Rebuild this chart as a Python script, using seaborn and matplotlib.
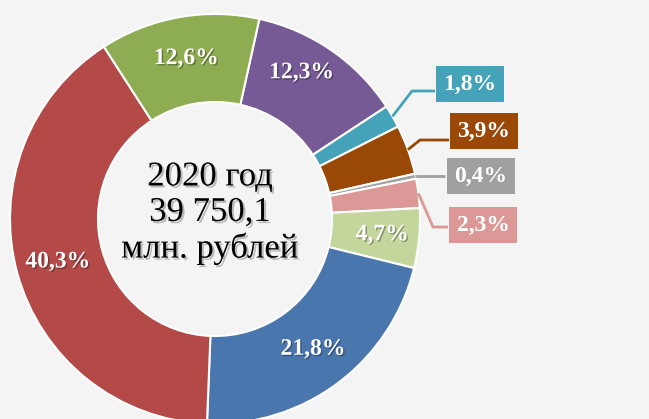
import matplotlib
matplotlib.use('Agg')
import numpy as np
import matplotlib.pyplot as plt
import matplotlib.patheffects as pe
import seaborn as sns

# shares of the 2020 total, clockwise from the top
shares = [12.3, 1.8, 3.9, 0.4, 2.3, 4.7, 21.8, 40.3, 12.6]
share_labels = ['12,3%', '1,8%', '3,9%', '0,4%', '2,3%', '4,7%', '21,8%', '40,3%', '12,6%']
slice_colors = ['#765A96', '#45A3B9', '#9A4806', '#A0A0A0', '#DC9896',
                '#C3D69B', '#4A76AE', '#B34A47', '#8EAC51']
outside = [False, True, True, True, True, False, False, False, False]
center_text = '2020 год\n39 750,1\nмлн. рублей'

sns.set_style('white')
plt.rcParams['font.family'] = ['Liberation Serif', 'DejaVu Serif']

W, H = 649, 419
CX, CY = 215, 219          # donut centre in pixels (from top-left)
R_OUT, R_IN = 205, 117

fig = plt.figure(figsize=(W / 100, H / 100), dpi=100)
fig.patch.set_facecolor('#F4F4F4')
ax = fig.add_axes([0, 0, 1, 1])
ax.set_facecolor('#F4F4F4')

wedges, _ = ax.pie(shares, colors=slice_colors, startangle=77.5, counterclock=False,
                   radius=R_OUT,
                   wedgeprops=dict(width=R_OUT - R_IN, edgecolor='white', linewidth=1.5))

ax.set_xlim(-CX, W - CX)
ax.set_ylim(-(H - CY), CY)
ax.axis('off')

shadow = [pe.withSimplePatchShadow(offset=(1, -1), shadow_rgbFace='black', alpha=0.3)]

# inner label distance from centre (px) and small angle nudges (deg)
inner_r = {0: 170, 5: 168, 6: 163, 7: 163, 8: 163}
inner_nudge = {0: 4, 5: 0, 6: 0, 7: 0, 8: 0}

# box label layout for the small slices: (box centre, elbow point) in pixels
box_layout = {
    1: ((470, 84), (412, 91)),
    2: ((484, 131), (420, 140)),
    3: ((481, 176), None),
    4: ((483, 225), (433, 227)),
}
box_left = {1: 435, 2: 449, 3: 445, 4: 448}


def px(x, y):
    return x - CX, CY - y


for i, w in enumerate(wedges):
    mid = np.deg2rad((w.theta1 + w.theta2) / 2)
    if not outside[i]:
        r = inner_r[i]
        a = mid + np.deg2rad(inner_nudge[i])
        ax.text(r * np.cos(a), r * np.sin(a), share_labels[i], ha='center', va='center',
                color='white', fontsize=17, fontweight='bold', path_effects=shadow)
    else:
        (bx, by), elbow = box_layout[i]
        sx, sy = R_OUT * np.cos(mid), R_OUT * np.sin(mid)
        if elbow is None:
            xs = [sx, px(box_left[i], 0)[0]]
            ys = [sy, sy]
        else:
            ex, ey = px(*elbow)
            xs = [sx, ex, px(box_left[i], 0)[0]]
            ys = [sy, ey, ey]
        ax.plot(xs, ys, color=slice_colors[i], lw=2, solid_capstyle='butt')
        tx, ty = px(bx, by)
        ax.text(tx, ty, share_labels[i], ha='center', va='center', color='white',
                fontsize=17, fontweight='bold',
                bbox=dict(boxstyle='square,pad=0.3', facecolor=slice_colors[i], edgecolor='none'))

cx, cy = px(210, 213)
ax.text(cx, cy, center_text, ha='center', va='center', fontsize=25, color='black',
        linespacing=1.1,
        path_effects=[pe.withSimplePatchShadow(offset=(1.5, -1.5), shadow_rgbFace='gray', alpha=0.5)])

fig.savefig('out.png', dpi=100, facecolor=fig.get_facecolor())
